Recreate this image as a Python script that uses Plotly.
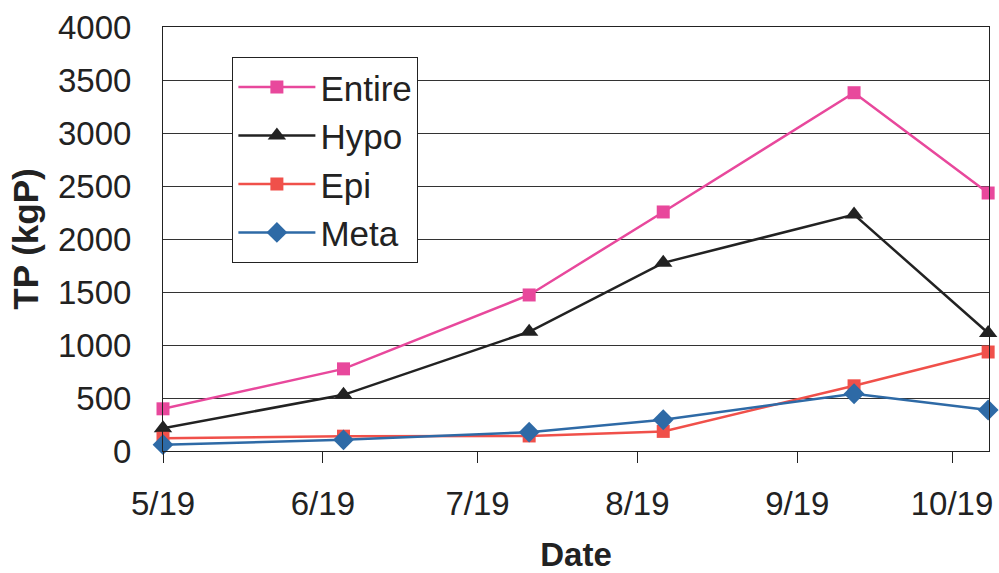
import plotly.graph_objects as go

dates = ["2000-05-19", "2000-06-23", "2000-07-29", "2000-08-24", "2000-09-30", "2000-10-26"]
entire = [398, 775, 1472, 2255, 3380, 2434]
hypo = [215, 530, 1125, 1775, 2230, 1113]
epi = [120, 140, 142, 185, 615, 934]
meta = [60, 105, 178, 295, 540, 387]

tick_vals = ["2000-05-19", "2000-06-19", "2000-07-19", "2000-08-19", "2000-09-19", "2000-10-19"]
tick_text = ["5/19", "6/19", "7/19", "8/19", "9/19", "10/19"]

FONT = "Liberation Sans, Arial, sans-serif"

fig = go.Figure()
series = [
    ("Entire", entire, "#E8489C", "square", 13),
    ("Hypo", hypo, "#222222", "triangle-up", 16),
    ("Epi", epi, "#F0504A", "square", 13),
    ("Meta", meta, "#2E6AA6", "diamond", 16),
]
for name, vals, col, sym, sz in series:
    fig.add_trace(go.Scatter(
        x=dates, y=vals, name=name, mode="lines+markers",
        line=dict(color=col, width=2.5),
        marker=dict(symbol=sym, size=sz, color=col),
        cliponaxis=False,
    ))

fig.update_layout(
    width=999, height=573,
    margin=dict(l=163, r=10, t=27, b=122),
    paper_bgcolor="white", plot_bgcolor="white",
    font=dict(family=FONT, color="#222222", size=33),
    showlegend=True,
    legend=dict(
        x=0.084, y=0.93, xanchor="left", yanchor="top",
        bgcolor="white", bordercolor="#222222", borderwidth=1,
        font=dict(size=35, color="#222222"),
        itemwidth=77,
    ),
)
fig.update_xaxes(
    type="date", automargin=False,
    range=["2000-05-19", "2000-10-26 04:00"],
    tickvals=tick_vals, ticktext=tick_text,
    ticks="outside", ticklen=11, tickwidth=1, tickcolor="#222222",
    showline=True, linecolor="#222222", linewidth=1, mirror=True,
    showgrid=False, zeroline=False,
    tickfont=dict(size=33),
    ticklabelstandoff=12,
    title=dict(text="<b>Date</b>", font=dict(size=33), standoff=26),
)
fig.update_yaxes(
    range=[0, 4000], dtick=500, automargin=False,
    showline=True, linecolor="#222222", linewidth=1, mirror=True,
    showgrid=True, gridcolor="#333333", gridwidth=1,
    zeroline=False, ticks="",
    tickfont=dict(size=33),
    ticklabelstandoff=24,
    title=dict(text="<b>TP (kgP)</b>", font=dict(size=35), standoff=8),
)

fig.write_html("out.html")
